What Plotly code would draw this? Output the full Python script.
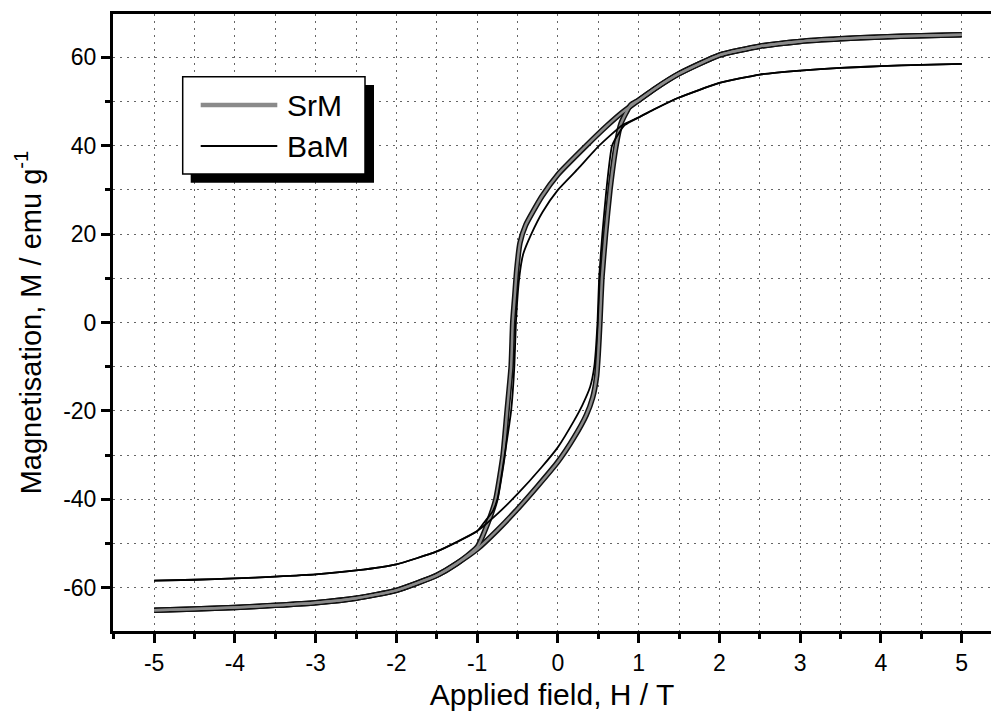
import plotly.graph_objects as go

# ---------------- data ----------------
srm_desc_H = [5, 4.5, 4, 3.5, 3, 2.5, 2, 1.5, 1.2, 1.0, 0.8, 0.6, 0.35, 0, -0.2, -0.4, -0.47,
              -0.51, -0.535, -0.56, -0.58, -0.63, -0.68, -0.77, -0.87, -1.0, -1.25, -1.5, -2, -2.5,
              -3, -3.5, -4, -4.5, -5]
srm_desc_M = [65.1, 64.9, 64.6, 64.2, 63.6, 62.5, 60.5, 56.3, 52.9, 50.3, 47.6, 44.4, 40, 33.5, 28.5,
              22, 18, 12, 6, 0, -10, -20, -30, -40, -45.5, -50.8, -54.5, -57.2, -60.6, -62.4,
              -63.4, -64.0, -64.5, -64.8, -65.1]

srm_asc_H = [-5, -4.5, -4, -3.5, -3, -2.5, -2, -1.5, -1.25, -1.0, -0.75, -0.5, -0.25, 0, 0.2, 0.35,
             0.43, 0.48, 0.5, 0.52, 0.545, 0.59, 0.645, 0.72, 0.78, 0.9, 1.0, 1.2, 1.5, 2, 2.5, 3,
             3.5, 4, 4.5, 5]
srm_asc_M = [-65.1, -64.8, -64.5, -64.0, -63.4, -62.4, -60.6, -57.2, -54.5, -51.3, -47, -42.2, -37,
             -31.5, -26, -21, -17, -12, -7, 0, 10, 20, 30, 40, 45, 49.2, 50.3, 52.9, 56.3, 60.5, 62.5,
             63.6, 64.2, 64.6, 64.9, 65.1]

bam_desc_H = [5, 4.5, 4, 3.5, 3, 2.5, 2, 1.5, 1.2, 1.0, 0.8, 0.51, 0.25, 0, -0.19, -0.33, -0.43,
              -0.48, -0.52, -0.54, -0.58, -0.66, -0.75, -0.81, -0.9, -1.0, -1.5, -2, -2.5, -3, -3.5,
              -4, -4.5, -5]
bam_desc_M = [58.5, 58.3, 58.0, 57.6, 57.0, 56.1, 54.2, 50.9, 48.3, 46.4, 44.7, 40, 34.8, 30, 25, 20,
              15.5, 10, 0, -10, -20, -30, -40, -42.8, -44.9, -47.2, -51.8, -54.7, -56.1, -57.0,
              -57.5, -57.9, -58.2, -58.4]

bam_asc_H = [-5, -4.5, -4, -3.5, -3, -2.5, -2, -1.5, -1.0, -0.75, -0.5, -0.2, 0, 0.2, 0.3, 0.4,
             0.45, 0.49, 0.51, 0.55, 0.6, 0.67, 0.76, 0.83, 1.0, 1.2, 1.5, 2, 2.5, 3, 3.5, 4, 4.5, 5]
bam_asc_M = [-58.4, -58.2, -57.9, -57.5, -57.0, -56.1, -54.7, -51.8, -47.2, -43.3, -38.8, -32.7,
             -28.2, -22.2, -18.8, -14.5, -10, 0, 10, 20, 30, 40, 43, 44.7, 46.4, 48.3, 50.9, 54.2,
             56.1, 57.0, 57.6, 58.0, 58.3, 58.5]

x_tick_vals = [-5, -4, -3, -2, -1, 0, 1, 2, 3, 4, 5]
x_tick_text = ["-5", "-4", "-3", "-2", "-1", "0", "1", "2", "3", "4", "5"]
y_tick_vals = [-60, -40, -20, 0, 20, 40, 60]
y_tick_text = ["-60", "-40", "-20", "0", "20", "40", "60"]

series_names = ["SrM", "BaM"]

# ---------------- figure ----------------
FONT = "Arial, 'Liberation Sans', sans-serif"
SMOOTH = 0.5
fig = go.Figure()

# SrM: thick gray line with dark edge
for hx, my in [(srm_desc_H, srm_desc_M), (srm_asc_H, srm_asc_M)]:
    fig.add_trace(go.Scatter(x=hx, y=my, mode="lines", showlegend=False, hoverinfo="skip",
                             line=dict(color="#111111", width=5.5, shape="spline", smoothing=SMOOTH)))
for hx, my in [(srm_desc_H, srm_desc_M), (srm_asc_H, srm_asc_M)]:
    fig.add_trace(go.Scatter(x=hx, y=my, mode="lines", name=series_names[0], showlegend=False,
                             line=dict(color="#8a8a8a", width=2.5, shape="spline", smoothing=SMOOTH)))
# BaM: thin black line
for hx, my in [(bam_desc_H, bam_desc_M), (bam_asc_H, bam_asc_M)]:
    fig.add_trace(go.Scatter(x=hx, y=my, mode="lines", name=series_names[1], showlegend=False,
                             line=dict(color="#000000", width=1.8, shape="spline", smoothing=SMOOTH)))

grid_dash = "2px,5px"
grid_col = "#666666"

fig.update_xaxes(
    range=[-5.51, 5.363], tickmode="array", tickvals=x_tick_vals, ticktext=x_tick_text,
    ticks="outside", ticklen=9, tickwidth=2.5, tickcolor="black",
    showline=True, linecolor="black", linewidth=3, mirror=True,
    showgrid=True, gridcolor=grid_col, gridwidth=1, griddash=grid_dash,
    minor=dict(dtick=0.5, tick0=0, ticks="outside", ticklen=5, tickwidth=2.5, tickcolor="black",
               showgrid=True, gridcolor=grid_col, gridwidth=1, griddash=grid_dash),
    zeroline=False,
    tickfont=dict(family=FONT, size=23, color="black"),
    title=dict(text="Applied field, H / T", font=dict(family=FONT, size=30, color="black"), standoff=10),
)
fig.update_yaxes(
    range=[-69.8, 69.8], tickmode="array", tickvals=y_tick_vals, ticktext=y_tick_text,
    ticks="outside", ticklen=9, tickwidth=2.5, tickcolor="black",
    showline=True, linecolor="black", linewidth=3, mirror=False,
    showgrid=True, gridcolor=grid_col, gridwidth=1, griddash=grid_dash,
    minor=dict(dtick=10, tick0=0, ticks="outside", ticklen=5, tickwidth=2.5, tickcolor="black",
               showgrid=True, gridcolor=grid_col, gridwidth=1, griddash=grid_dash),
    zeroline=False,
    tickfont=dict(family=FONT, size=23, color="black"),
    title=dict(text="Magnetisation, M / emu g<sup>-1</sup>", font=dict(family=FONT, size=29, color="black"),
               standoff=14),
)

# Legend drawn manually (box with drop shadow)
L, B, W, Hh = 113, 87, 878, 617
def px(x):
    return (x - L) / W
def py(y):
    return (718 - B - y) / Hh

shapes = [
    dict(type="rect", xref="paper", yref="paper", x0=px(190.7), x1=px(374), y0=py(182.7), y1=py(85),
         fillcolor="black", line=dict(width=0), layer="above"),
    dict(type="rect", xref="paper", yref="paper", x0=px(182.7), x1=px(365), y0=py(174), y1=py(76.7),
         fillcolor="white", line=dict(color="black", width=1.5), layer="above"),
    dict(type="line", xref="paper", yref="paper", x0=px(200.7), x1=px(277.3), y0=py(105), y1=py(105),
         line=dict(color="#8a8a8a", width=4.5), layer="above"),
    dict(type="line", xref="paper", yref="paper", x0=px(200.7), x1=px(277.3), y0=py(146), y1=py(146),
         line=dict(color="black", width=2), layer="above"),
]
annotations = [
    dict(xref="paper", yref="paper", x=px(285), y=py(105), text=series_names[0], showarrow=False,
         xanchor="left", yanchor="middle", font=dict(family=FONT, size=30, color="black")),
    dict(xref="paper", yref="paper", x=px(285), y=py(146), text=series_names[1], showarrow=False,
         xanchor="left", yanchor="middle", font=dict(family=FONT, size=30, color="black")),
]

fig.update_layout(
    width=991, height=718,
    margin=dict(l=L, r=0, t=14, b=B, autoexpand=False),
    paper_bgcolor="white", plot_bgcolor="white",
    shapes=shapes, annotations=annotations, showlegend=False,
)

fig.write_html("out.html", config={"displayModeBar": False},
               post_script="document.body.style.margin='0px';document.body.style.overflow='hidden';")
